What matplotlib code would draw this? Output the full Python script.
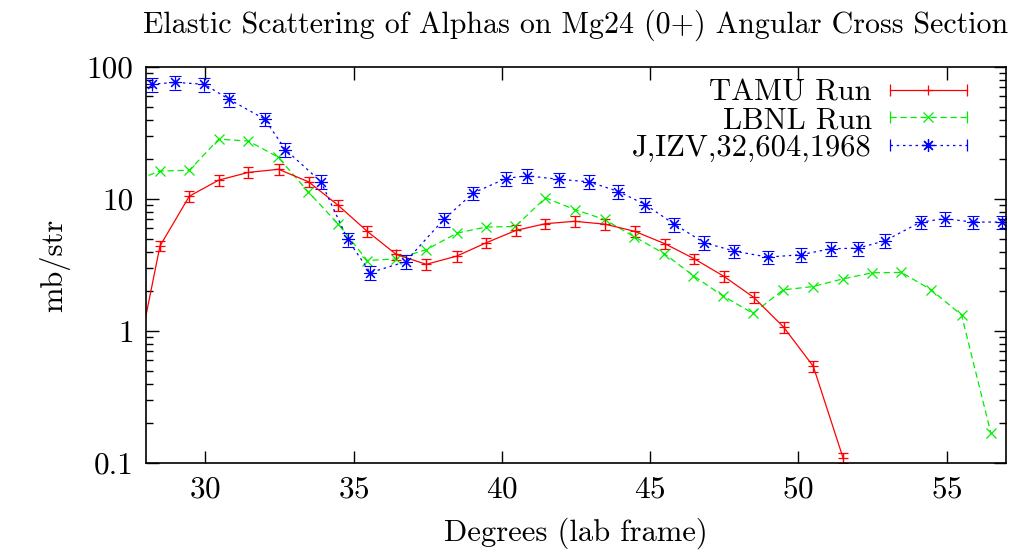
import matplotlib
matplotlib.use('Agg')
import matplotlib.pyplot as plt
from matplotlib.lines import Line2D
from matplotlib.legend_handler import HandlerLine2D, HandlerTuple

plt.rcParams['font.family'] = 'serif'
plt.rcParams['font.serif'] = ['cmr10']
plt.rcParams['axes.formatter.use_mathtext'] = True

# TAMU run (red, with error bars)
tamu_deg = [27.45, 28.47, 29.46, 30.45, 31.45, 32.47, 33.48, 34.48, 35.46, 36.44,
            37.45, 38.47, 39.48, 40.47, 41.46, 42.46, 43.49, 44.48, 45.50, 46.49,
            47.48, 48.49, 49.50, 50.50, 51.50]
tamu_xs = [0.32, 4.4, 10.5, 13.9, 15.9, 16.8, 13.5, 8.96, 5.69, 3.8,
           3.2, 3.69, 4.67, 5.78, 6.5, 6.78, 6.44, 5.69, 4.58, 3.52,
           2.6, 1.80, 1.07, 0.54, 0.11]
tamu_rel_err = 0.09

# LBNL run (green)
lbnl_deg = [27.45, 28.47, 29.46, 30.45, 31.45, 32.45, 33.46, 34.47, 35.46, 36.44,
            37.45, 38.49, 39.46, 40.45, 41.47, 42.47, 43.46, 44.45, 45.48, 46.46,
            47.46, 48.47, 49.48, 50.48, 51.49, 52.48, 53.47, 54.48, 55.50, 56.49]
lbnl_xs = [13.3, 16.3, 16.5, 28.4, 27.5, 20.8, 11.4, 6.5, 3.42, 3.52,
           4.13, 5.52, 6.13, 6.2, 10.2, 8.3, 7.0, 5.2, 3.85, 2.62,
           1.84, 1.36, 2.05, 2.17, 2.48, 2.76, 2.78, 2.05, 1.32, 0.168]

# J,IZV,32,604,1968 (blue, with error bars)
izv_deg = [28.19, 28.98, 29.97, 30.80, 32.00, 32.70, 33.90, 34.80, 35.56, 36.75,
           38.04, 39.03, 40.13, 40.83, 41.93, 42.93, 43.93, 44.84, 45.82, 46.82,
           47.84, 48.96, 50.07, 51.09, 52.00, 52.92, 54.12, 54.94, 55.87, 56.88, 57.9]
izv_xs = [74.0, 76.5, 74.0, 56.9, 40.3, 23.7, 13.5, 4.94, 2.77, 3.35,
          7.0, 11.1, 14.3, 15.0, 14.1, 13.5, 11.4, 9.06, 6.43, 4.67,
          4.03, 3.63, 3.78, 4.2, 4.24, 4.83, 6.69, 7.1, 6.69, 6.69, 6.69]
izv_rel_err = 0.12

red = '#ff0000'
green = '#00ee00'
blue = '#0000ff'

fig = plt.figure(figsize=(10.29, 5.52), dpi=100)
ax = fig.add_axes([0.1419, 0.1612, 0.8358, 0.7174])

tamu_err = [v * tamu_rel_err for v in tamu_xs]
ax.errorbar(tamu_deg, tamu_xs, yerr=tamu_err, color=red, lw=0.9, marker='+',
            ms=7, mew=0.9, capsize=3.5, elinewidth=0.9, capthick=0.9)

ax.plot(lbnl_deg, lbnl_xs, color=green, lw=0.9, ls=(0, (5, 3)), marker='x',
        ms=7, mew=0.9)

izv_err = [v * izv_rel_err for v in izv_xs]
eb = ax.errorbar(izv_deg, izv_xs, yerr=izv_err, color=blue, lw=0.9,
                 ls=(0, (2, 3)), marker=(8, 2, 0), ms=9, mew=0.8,
                 capsize=4, elinewidth=0.8, capthick=0.8)
for coll in eb[2]:
    coll.set_linestyle((0, (1.5, 1.5)))
    coll.set_alpha(0.6)

ax.set_yscale('log')
ax.set_xlim(28, 57)
ax.set_ylim(0.1, 100)
ax.set_xticks([30, 35, 40, 45, 50, 55])
ax.set_yticks([0.1, 1, 10, 100], labels=['0.1', '1', '10', '100'])
ax.tick_params(which='both', direction='in', top=True, right=True,
               labelsize=22.5, width=1, pad=9)
ax.tick_params(which='major', length=9)
ax.tick_params(which='minor', length=5)
ax.xaxis.set_minor_locator(matplotlib.ticker.NullLocator())
for s in ax.spines.values():
    s.set_linewidth(1.2)

ax.set_title('Elastic Scattering of Alphas on Mg24 (0+) Angular Cross Section',
             fontsize=21.6, pad=25)
ax.set_xlabel('Degrees (lab frame)', fontsize=22, labelpad=10)
ax.set_ylabel('mb/str', fontsize=22, labelpad=12)

# gnuplot-style legend keys: line with end caps and marker in the middle
def key(color, ls, marker, ms):
    caps = Line2D([], [], color=color, lw=0.9, ls=ls, marker='|', ms=8, mew=0.9)
    mk = Line2D([], [], color=color, lw=0, marker=marker, ms=ms, mew=0.9)
    return (caps, mk), {caps: HandlerLine2D(numpoints=2), mk: HandlerLine2D(numpoints=1)}

h1, m1 = key(red, '-', '+', 7)
h2, m2 = key(green, (0, (5, 3)), 'x', 7)
h3, m3 = key(blue, (0, (2, 3)), (8, 2, 0), 9)
hmap = {tuple: HandlerTuple(ndivide=1, pad=0)}
hmap.update(m1)
hmap.update(m2)
hmap.update(m3)
ax.legend([h1, h2, h3], ['TAMU Run', 'LBNL Run', 'J,IZV,32,604,1968'],
          handler_map=hmap, loc='upper right', frameon=False, markerfirst=False,
          fontsize=22, handlelength=3.1, handletextpad=0.3, labelspacing=0.0,
          borderaxespad=0.0, bbox_to_anchor=(0.979, 1.0))

fig.savefig('out.png', dpi=100)
